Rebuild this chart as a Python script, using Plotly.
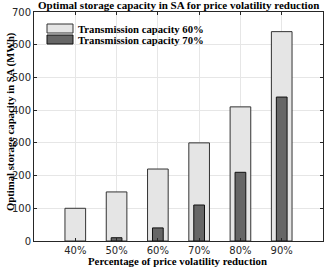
import plotly.graph_objects as go

categories = ["40%", "50%", "60%", "70%", "80%", "90%"]
positions = [1, 2, 3, 4, 5, 6]
cap60 = [100, 150, 220, 300, 410, 640]
cap70 = [0, 10, 40, 110, 210, 440]
y_ticks = [0, 100, 200, 300, 400, 500, 600, 700]
legend_names = ["Transmission capacity 60%", "Transmission capacity 70%"]

serif = "Liberation Serif, DejaVu Serif, serif"
W, H = 328, 268
L, R, T, B = 34, 5, 12, 27

fig = go.Figure()
fig.add_trace(go.Bar(x=positions, y=cap60, width=0.5, name=legend_names[0], showlegend=False,
                     marker=dict(color="#e5e5e5", line=dict(color="#333333", width=1))))
fig.add_trace(go.Bar(x=positions, y=[v if v > 0 else None for v in cap70], width=0.26,
                     name=legend_names[1], showlegend=False,
                     marker=dict(color="#666666", line=dict(color="#111111", width=1))))

pw, ph = W - L - R, H - T - B
def px_x(p):
    return (p - L) / pw
def px_y(p):
    return 1 - (p - T) / ph

shapes = []
annotations = []
legend_rows = [(28.5, "#e5e5e5", "#333333"), (39.5, "#666666", "#111111")]
for (yc, fill, edge), name in zip(legend_rows, legend_names):
    shapes.append(dict(type="rect", xref="paper", yref="paper",
                       x0=px_x(47), x1=px_x(73), y0=px_y(yc + 4.5), y1=px_y(yc - 4.5),
                       fillcolor=fill, line=dict(color=edge, width=1)))
    annotations.append(dict(text="<b>" + name + "</b>", xref="paper", yref="paper",
                            x=px_x(76), y=px_y(yc), xanchor="left", yanchor="middle",
                            showarrow=False, font=dict(family=serif, size=10.7, color="black")))

annotations.append(dict(text="<b>Optimal storage capacity in SA for price volatility reduction</b>",
                        xref="paper", yref="paper", x=px_x(178), y=px_y(5.5),
                        xanchor="center", yanchor="middle", showarrow=False,
                        font=dict(family=serif, size=11, color="black")))
annotations.append(dict(text="<b>Percentage of price volatility reduction</b>",
                        xref="paper", yref="paper", x=px_x(177), y=px_y(261),
                        xanchor="center", yanchor="middle", showarrow=False,
                        font=dict(family=serif, size=10.8, color="black")))
annotations.append(dict(text="<b>Optimal storage capacity in SA (MWh)</b>",
                        xref="paper", yref="paper", x=px_x(10), y=px_y(122),
                        xanchor="center", yanchor="middle", showarrow=False, textangle=-90,
                        font=dict(family=serif, size=10.7, color="black")))

fig.update_layout(
    width=W, height=H,
    barmode="overlay",
    margin=dict(l=L, r=R, t=T, b=B, autoexpand=False),
    paper_bgcolor="white", plot_bgcolor="white",
    shapes=shapes, annotations=annotations,
    showlegend=False,
)
axis_common = dict(showgrid=True, gridcolor="#e6e6e6", gridwidth=1,
                   showline=True, linecolor="#262626", linewidth=1, mirror="ticks",
                   ticks="inside", ticklen=3, tickcolor="#262626", automargin=False,
                   tickfont=dict(family="DejaVu Sans, sans-serif", size=10, color="#262626"),
                   zeroline=False)
fig.update_xaxes(range=[0, 7], tickvals=positions, ticktext=categories, **axis_common)
fig.update_yaxes(range=[0, 700], tickvals=y_ticks, **axis_common)

fig.write_html("out.html", config={"displayModeBar": False},
               post_script="document.body.style.margin='0px';")
